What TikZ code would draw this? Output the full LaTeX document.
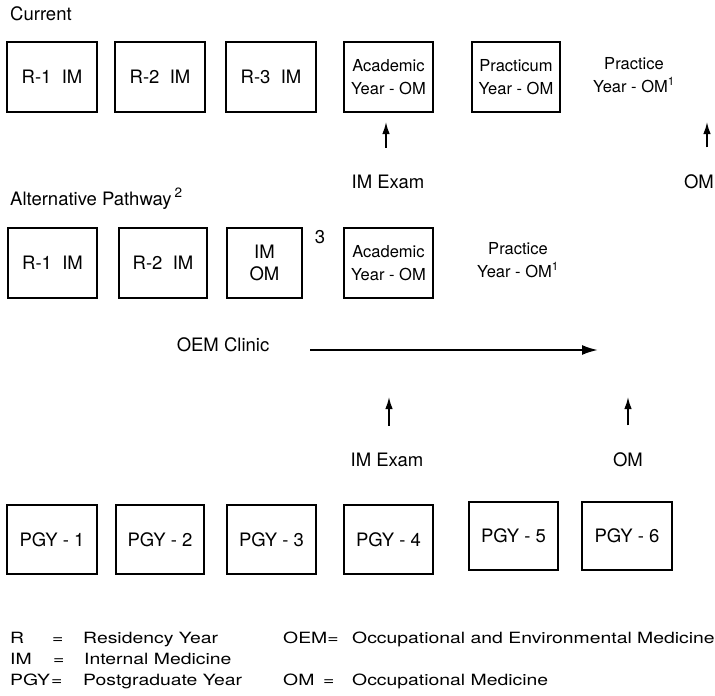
\documentclass[tikz,border=0pt]{standalone}
\usepackage{fontspec}
\setmainfont{TeX Gyre Heros}
\newfontfamily\legendfont[FakeStretch=1.25]{TeX Gyre Heros}
\usetikzlibrary{arrows.meta}
\tikzset{>=latex}
\newcommand\mainsize{\fontsize{18.5}{22}\selectfont}
\newcommand\twosize{\fontsize{16.5}{22.5}\selectfont}
\newcommand\keysize{\legendfont\fontsize{15.5}{21}\selectfont}
\newcommand\fnmark[1]{\raisebox{0.42em}{\fontsize{13.5}{14}\selectfont #1}}
\tikzset{
  yearbox/.style={draw,line width=1.1pt,inner sep=0pt,align=center,
    minimum width=89pt,minimum height=70pt,font=\mainsize},
  lbl/.style={anchor=base,inner sep=0pt,font=\mainsize},
  keytxt/.style={anchor=base west,inner sep=0pt,font=\keysize},
  uparrow/.style={-{Latex[length=12pt,width=7.5pt]},line width=1.6pt,shorten <=27pt},
  clinicarrow/.style={-{Latex[length=16pt,width=10pt]},line width=2pt},
}

\begin{document}
\begin{tikzpicture}[x=1pt,y=-1pt]
  \useasboundingbox (0,0) rectangle (715,696);

  % CURRENT
  \node[lbl,anchor=base west] (cur) at (10,20.5) {Current};
  \node[yearbox,minimum width=90pt] (cur1) at (52,77) {R-1\ \ IM};
  \node[yearbox,minimum width=90pt] (cur2) at (160,77) {R-2\ \ IM};
  \node[yearbox,minimum width=90pt] (cur3) at (271,77) {R-3\ \ IM};
  \node[yearbox,font=\twosize] (cur4) at (388.5,77) {Academic\\Year - OM};
  \node[yearbox,minimum width=88pt,font=\twosize] (cur5) at (516,77) {Practicum\\Year - OM};
  \node[align=center,inner sep=0pt,font=\twosize] (cur6) at (634,75) {Practice\\Year - OM\textsuperscript{1}};
  \node[lbl] (exam1) at (388,188.5) {IM Exam};
  \node[lbl] (om1) at (699,188.5) {OM};
  \coordinate (tip1) at (386,122);
  \coordinate (tip2) at (707,122);
  \draw[uparrow] (exam1.north -| tip1) -- (tip1);
  \draw[uparrow] (om1.north -| tip2) -- (tip2);

  % ALTERNATIVE PATHWAY
  \node[lbl,anchor=base west] (alt) at (10,205.5) {Alternative Pathway\,\fnmark{2}};
  \node[yearbox] (alt1) at (52.5,263) {R-1\ \ IM};
  \node[yearbox,minimum width=88pt] (alt2) at (163,263) {R-2\ \ IM};
  \node[yearbox,minimum width=75pt] (alt3) at (264.5,263) {IM\\OM};
  \node[lbl] (note3) at (320,243.5) {3};
  \node[yearbox,font=\twosize] (alt4) at (388.5,263) {Academic\\Year - OM};
  \node[align=center,inner sep=0pt,font=\twosize] (alt5) at (518,260) {Practice\\Year - OM\textsuperscript{1}};
  \node[lbl] (clinic) at (223,351.5) {OEM Clinic};
  \coordinate (clinicA) at (310,350);
  \coordinate (clinicB) at (598,350);
  \draw[clinicarrow] (clinicA) -- (clinicB);
  \node[lbl] (exam2) at (387,466.5) {IM Exam};
  \node[lbl] (om2) at (628,466.5) {OM};
  \coordinate (tip3) at (389,397);
  \coordinate (tip4) at (628,397);
  \draw[uparrow] (exam2.north -| tip3) -- (tip3);
  \draw[uparrow] (om2.north -| tip4) -- (tip4);

  % PGY
  \node[yearbox,minimum width=90pt,minimum height=69pt] (pgy1) at (52,539.5) {PGY - 1};
  \node[yearbox,minimum width=88pt,minimum height=69pt] (pgy2) at (160,539.5) {PGY - 2};
  \node[yearbox,minimum height=69pt] (pgy3) at (271.5,539.5) {PGY - 3};
  \node[yearbox,minimum height=69pt] (pgy4) at (388.5,539.5) {PGY - 4};
  \node[yearbox,minimum height=68pt] (pgy5) at (513.5,536) {PGY - 5};
  \node[yearbox,minimum width=90pt,minimum height=68pt] (pgy6) at (627,536) {PGY - 6};

  % LEGEND
  \node[keytxt] (keyR) at (10,643.5) {R};
  \node[keytxt] (eqR) at (52,643.5) {=};
  \node[keytxt] (txtR) at (83,643.5) {Residency Year};
  \node[keytxt] (keyIM) at (10,664.5) {IM};
  \node[keytxt] (eqIM) at (53,664.5) {=};
  \node[keytxt] (txtIM) at (84,664.5) {Internal Medicine};
  \node[keytxt] (keyPGY) at (10,685.5) {PGY};
  \node[keytxt] (eqPGY) at (51,685.5) {=};
  \node[keytxt] (txtPGY) at (83,685.5) {Postgraduate Year};
  \node[keytxt] (keyOEM) at (283,643.5) {OEM=};
  \node[keytxt] (txtOEM) at (352,643.5) {Occupational and Environmental Medicine};
  \node[keytxt] (keyOM) at (283,685.5) {OM};
  \node[keytxt] (eqOM) at (323,685.5) {=};
  \node[keytxt] (txtOM) at (352,685.5) {Occupational Medicine};
\end{tikzpicture}
\end{document}
